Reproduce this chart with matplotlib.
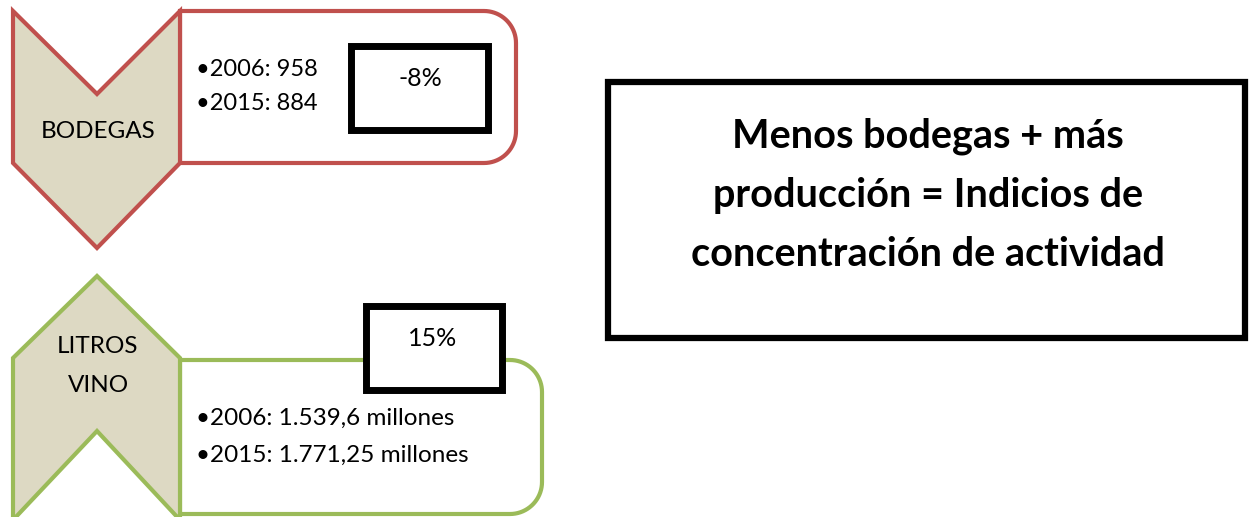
import matplotlib.pyplot as plt
import numpy as np
from matplotlib.patches import Polygon, Rectangle

# datos
categorias = ["BODEGAS", "LITROS\nVINO"]
anios = ["2006", "2015"]
bodegas = ["958", "884"]
litros = ["1.539,6 millones", "1.771,25 millones"]
variaciones = ["-8%", "15%"]
conclusion = "Menos bodegas + más\nproducción = Indicios de\nconcentración de actividad"

rojo = "#C0504D"
verde = "#9BBB59"
beige = "#DDD9C3"

plt.rcParams['font.family'] = ['Lato', 'DejaVu Sans']

fig = plt.figure(figsize=(12.49, 5.17), dpi=100)
ax = fig.add_axes([0, 0, 1, 1])
ax.set_xlim(0, 1249)
ax.set_ylim(517, 0)
ax.axis("off")


def caja_redonda(x0, y0, x1, y1, r):
    # esquinas izquierdas rectas, derechas redondeadas
    t1 = np.linspace(-np.pi / 2, 0, 20)
    t2 = np.linspace(0, np.pi / 2, 20)
    pts = [(x0, y0)]
    pts += list(zip(x1 - r + r * np.cos(t1), y0 + r + r * np.sin(t1)))
    pts += list(zip(x1 - r + r * np.cos(t2), y1 - r + r * np.sin(t2)))
    pts += [(x0, y1)]
    return pts


# bloque superior: bodegas
ax.add_patch(Polygon(caja_redonda(180, 11, 516, 163, 32), closed=True,
                     fc="white", ec=rojo, lw=3, joinstyle="miter"))
ax.add_patch(Polygon([(13, 11), (97, 94), (180, 11), (180, 163), (97, 248), (13, 163)],
                     closed=True, fc=beige, ec=rojo, lw=3, joinstyle="miter"))
ax.text(98, 131, categorias[0], ha="center", va="center", fontsize=17.5)
for i, (a, v) in enumerate(zip(anios, bodegas)):
    ax.text(196, 70 + 33 * i, "•" + a + ": " + v, ha="left", va="center", fontsize=17)
ax.add_patch(Rectangle((351.5, 45.5), 137, 84, fc="white", ec="black", lw=5))
ax.text(420, 78, variaciones[0], ha="center", va="center", fontsize=18)

# bloque inferior: litros de vino
ax.add_patch(Polygon(caja_redonda(180, 360, 542, 514, 32), closed=True,
                     fc="white", ec=verde, lw=3, joinstyle="miter"))
ax.add_patch(Polygon([(13, 358), (97, 276), (180, 358), (180, 520), (97, 431), (13, 520)],
                     closed=True, fc=beige, ec=verde, lw=3, joinstyle="miter"))
ax.text(98, 366, categorias[1], ha="center", va="center", fontsize=17.5, linespacing=2.1)
for i, (a, v) in enumerate(zip(anios, litros)):
    ax.text(196, 418 + 37 * i, "•" + a + ": " + v, ha="left", va="center", fontsize=17.5)
ax.add_patch(Rectangle((366.5, 305.5), 136, 84, fc="white", ec="black", lw=5))
ax.text(433, 338, variaciones[1], ha="center", va="center", fontsize=18)

# conclusión
ax.add_patch(Rectangle((608, 82), 637, 256, fc="white", ec="black", lw=4.5))
ax.text(928, 195, conclusion, ha="center", va="center", fontsize=28.5,
        fontweight="bold", linespacing=1.74)

plt.savefig("out.png", dpi=100)
